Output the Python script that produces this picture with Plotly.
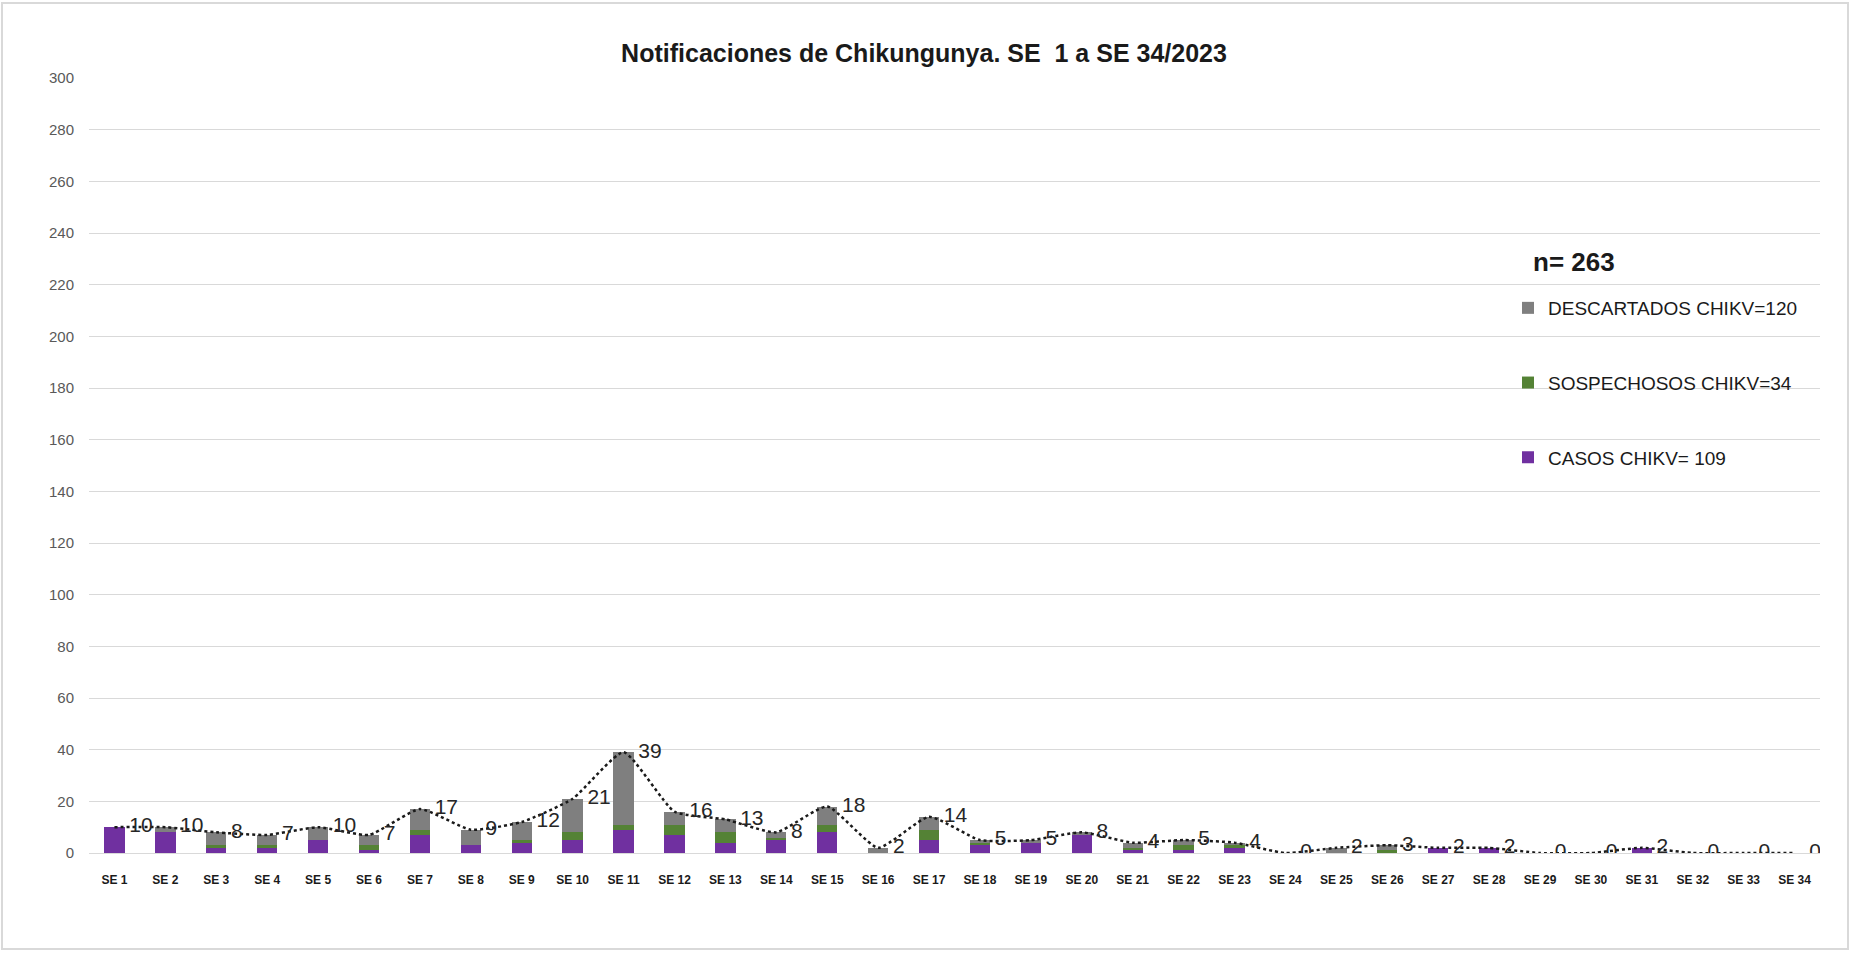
import plotly.graph_objects as go

weeks = [f"SE {i}" for i in range(1, 35)]
casos = [10, 8, 2, 2, 5, 1, 7, 3, 4, 5, 9, 7, 4, 5, 8, 0, 5, 3, 4, 7, 1, 1, 2, 0, 0, 0, 2, 2, 0, 0, 2, 0, 0, 0]
sospechosos = [0, 0, 1, 1, 0, 2, 2, 0, 1, 3, 2, 4, 4, 1, 3, 0, 4, 1, 0, 0, 1, 2, 1, 0, 0, 1, 0, 0, 0, 0, 0, 0, 0, 0]
descartados = [0, 2, 5, 4, 5, 4, 8, 6, 7, 13, 28, 5, 5, 2, 7, 2, 5, 1, 1, 1, 2, 2, 1, 0, 2, 2, 0, 0, 0, 0, 0, 0, 0, 0]
totales = [10, 10, 8, 7, 10, 7, 17, 9, 12, 21, 39, 16, 13, 8, 18, 2, 14, 5, 5, 8, 4, 5, 4, 0, 2, 3, 2, 2, 0, 0, 2, 0, 0, 0]

names = ["CASOS CHIKV= 109", "SOSPECHOSOS CHIKV=34", "DESCARTADOS CHIKV=120"]
legend_ranks = [3, 2, 1]
colors = ["#7030A0", "#548235", "#7F7F7F"]
title = "Notificaciones de Chikungunya. SE  1 a SE 34/2023"
n_label = "n= 263"

FONT = "Liberation Sans, Arial, sans-serif"

fig = go.Figure()
for vals, name, col, rk in zip([casos, sospechosos, descartados], names, colors, legend_ranks):
    fig.add_trace(go.Bar(x=weeks, y=vals, name=name, marker=dict(color=col, line=dict(width=0)),
                         legendgroup=name, legendrank=rk))

fig.add_trace(go.Scatter(
    x=weeks, y=totales, mode="lines+markers+text", showlegend=False,
    line=dict(color="#1a1a1a", width=2.5, dash="dot", shape="spline", smoothing=0.5),
    marker=dict(size=22, color="rgba(0,0,0,0)"),
    text=[str(v) for v in totales], textposition="middle right",
    textfont=dict(family=FONT, size=21, color="#262626"),
))

# plot area geometry (pixels)
W, H = 1853, 953
L, R, T, B = 89, 33, 78, 100
pw, ph = W - L - R, H - T - B

def px_x(p):
    return (p - L) / pw

def px_y(p):
    return (H - B - p) / ph

fig.add_shape(type="rect", xref="paper", yref="paper",
              x0=px_x(2), x1=px_x(1848), y0=px_y(949), y1=px_y(3),
              line=dict(color="#d9d9d9", width=2), fillcolor="rgba(0,0,0,0)", layer="below")

fig.add_annotation(text=f"<b>{n_label}</b>", xref="paper", yref="paper",
                   x=px_x(1531), y=px_y(262), xanchor="left", yanchor="middle",
                   showarrow=False, font=dict(family=FONT, size=26, color="#1a1a1a"))

fig.update_layout(
    width=W, height=H,
    margin=dict(l=L, r=R, t=T, b=B, autoexpand=False),
    paper_bgcolor="white", plot_bgcolor="white",
    barmode="stack", bargap=0.6,
    title=dict(text=f"<b>{title}</b>", x=924 / W, xref="container", xanchor="center",
               y=1 - 53 / H, yref="container", yanchor="middle",
               font=dict(family=FONT, size=25, color="#1a1a1a")),
    font=dict(family=FONT),
    legend=dict(
        x=px_x(1508), xanchor="left", y=px_y(289), yanchor="top",
        traceorder="grouped", tracegroupgap=47,
        font=dict(family=FONT, size=19, color="#1a1a1a"),
        bgcolor="rgba(0,0,0,0)", itemwidth=30,
    ),
    xaxis=dict(
        range=[-0.5, 33.5],
        tickfont=dict(family=FONT, size=12, color="#1a1a1a", weight="bold"),
        showgrid=False, showline=True, linecolor="#d9d9d9", linewidth=1,
        ticks="", tickangle=0, ticklabelstandoff=16,
    ),
    yaxis=dict(
        range=[0, 300], dtick=20, tick0=0,
        showgrid=True, gridcolor="#d9d9d9", gridwidth=1,
        zeroline=True, zerolinecolor="#d9d9d9", zerolinewidth=1,
        tickfont=dict(family=FONT, size=15, color="#595959"),
        ticks="", ticklabelstandoff=14,
    ),
)

fig.write_html("out.html", config={"displayModeBar": False},
               post_script="document.body.style.margin='0';")
